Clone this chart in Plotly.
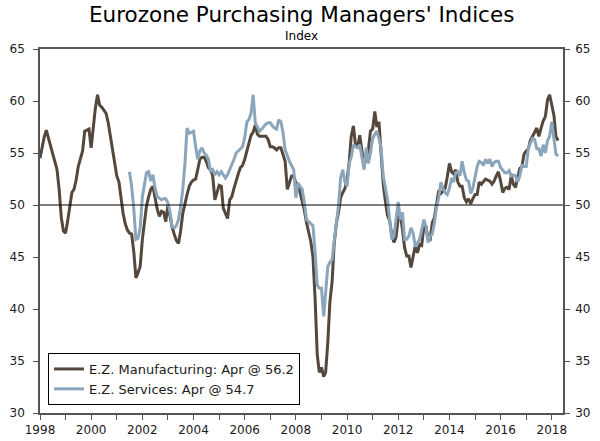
"""Eurozone PMI : manufacturier vs services, 1998-2018."""

import pandas as pd
import plotly.graph_objects as go

# === Données (indices mensuels) ===
mfg_start = "1998-01-01"
mfg_values = [
    54.5, 55.6, 56.5, 57.2, 56.5, 55.8, 55.0, 54.2, 53.4, 51.5, 48.8, 47.5,  # 1998
    47.3, 48.5, 49.9, 51.2, 51.5, 52.4, 53.7, 54.4, 55.2, 57.1, 57.2, 57.3,  # 1999
    55.5, 57.5, 59.3, 60.6, 59.6, 59.4, 59.1, 58.8, 57.9, 56.6, 55.0, 54.0,  # 2000
    52.8, 52.2, 50.5, 49.2, 48.2, 47.6, 47.3, 47.2, 45.5, 43.0, 43.5, 44.1,  # 2001
    46.7, 48.3, 49.9, 50.8, 51.5, 51.8, 50.5, 49.6, 48.9, 49.4, 49.3, 48.4,  # 2002
    50.0, 48.8, 47.9, 47.2, 46.6, 46.3, 47.5, 49.2, 50.2, 51.0, 51.8, 52.2,  # 2003
    52.4, 52.5, 53.4, 54.4, 54.6, 54.6, 54.2, 53.6, 53.4, 52.8, 50.5, 51.2,  # 2004
    51.9, 51.8, 49.7, 49.2, 48.7, 50.5, 50.8, 51.6, 52.4, 53.0, 53.6, 53.8,  # 2005
    54.4, 55.2, 55.8, 56.7, 57.0, 57.7, 56.8, 56.6, 56.6, 56.6, 56.6, 56.3,  # 2006
    55.6, 55.6, 55.5, 55.3, 55.5, 55.5, 54.8, 54.2, 51.5, 52.2, 52.8, 52.8,  # 2007
    52.1, 52.0, 51.2, 50.5, 49.5, 48.3, 47.3, 46.5, 45.0, 41.1, 35.6, 33.9,  # 2008
    34.4, 33.5, 33.9, 36.8, 40.7, 42.6, 46.3, 48.2, 49.3, 50.7, 51.2, 51.6,  # 2009
    52.4, 54.2, 56.6, 57.6, 55.8, 55.6, 56.7, 55.1, 53.7, 54.6, 55.3, 57.1,  # 2010
    57.3, 59.0, 57.5, 58.0, 54.6, 52.0, 50.4, 49.0, 48.5, 47.1, 46.4, 46.9,  # 2011
    48.8, 49.0, 47.7, 45.9, 45.1, 45.1, 44.0, 45.1, 46.1, 45.4, 46.2, 46.1,  # 2012
    47.9, 47.9, 46.8, 46.7, 48.3, 48.8, 50.3, 51.4, 51.1, 51.3, 51.6, 52.7,  # 2013
    54.0, 53.2, 53.0, 53.4, 52.2, 51.8, 51.8, 50.7, 50.3, 50.6, 50.1, 50.6,  # 2014
    51.0, 51.0, 52.2, 52.0, 52.2, 52.5, 52.4, 52.3, 52.0, 52.3, 52.8, 53.2,  # 2015
    52.3, 51.2, 51.6, 51.7, 51.5, 52.8, 52.0, 51.7, 52.6, 53.5, 53.7, 54.9,  # 2016
    55.2, 55.4, 56.2, 56.7, 57.0, 57.4, 56.6, 57.4, 58.1, 58.5, 60.1, 60.6,  # 2017
    59.6, 58.6, 56.6, 56.2,                                                  # 2018
]

svc_start = "2001-07-01"
svc_values = [
    53.2, 51.8, 49.6, 46.7, 46.8, 47.8,                                      # 2001 (jul-dec)
    50.8, 52.0, 53.1, 53.2, 52.3, 52.9, 51.6, 50.8, 50.6, 50.5, 50.6, 50.6,  # 2002
    50.2, 49.3, 47.9, 47.8, 48.0, 48.6, 49.8, 51.5, 54.0, 57.4, 56.9, 57.0,  # 2003
    57.1, 55.6, 54.4, 55.2, 55.5, 55.0, 54.8, 54.4, 53.2, 53.4, 52.9, 53.2,  # 2004
    52.9, 53.2, 52.9, 52.6, 52.9, 53.4, 53.8, 54.4, 55.0, 55.2, 55.4, 55.6,  # 2005
    56.5, 58.0, 58.2, 58.8, 60.6, 57.9, 57.5, 57.1, 57.3, 57.6, 57.8, 57.9,  # 2006
    57.9, 57.6, 57.4, 57.3, 58.2, 58.0, 57.0, 55.3, 54.7, 54.2, 53.8, 53.4,  # 2007
    50.7, 52.1, 51.8, 51.5, 50.2, 48.6, 48.4, 48.2, 48.0, 45.5, 42.3, 42.0,  # 2008
    42.0, 39.3, 41.9, 44.1, 44.5, 44.7, 46.5, 48.3, 50.0, 52.6, 53.4, 52.2,  # 2009
    51.8, 54.0, 54.6, 55.8, 55.6, 55.5, 55.8, 54.6, 53.4, 55.5, 54.0, 55.0,  # 2010
    56.4, 56.8, 57.1, 56.4, 55.5, 52.8, 51.5, 50.5, 48.6, 46.7, 47.0, 48.8,  # 2011
    50.3, 48.6, 49.3, 46.7, 46.7, 47.0, 47.8, 47.3, 46.0, 46.3, 46.7, 47.6,  # 2012
    48.6, 47.9, 46.4, 47.0, 47.2, 48.3, 49.8, 50.7, 52.2, 51.6, 51.2, 51.0,  # 2013
    51.6, 52.6, 52.2, 53.1, 53.2, 52.8, 54.2, 53.1, 52.4, 52.3, 51.1, 51.6,  # 2014
    52.7, 53.7, 54.2, 54.1, 53.8, 54.4, 54.0, 54.4, 53.7, 54.1, 54.2, 54.2,  # 2015
    53.6, 53.3, 53.1, 53.1, 53.3, 52.8, 52.9, 52.8, 52.2, 52.8, 53.8, 53.7,  # 2016
    53.7, 55.5, 56.0, 56.4, 56.3, 55.4, 55.4, 54.7, 55.8, 55.0, 56.2, 56.6,  # 2017
    58.0, 56.2, 54.9, 54.7,                                                  # 2018
]

mfg_name = "E.Z. Manufacturing: Apr @ 56.2"
svc_name = "E.Z. Services: Apr @ 54.7"
years = list(range(1998, 2019))
year_labels = [str(y) if y % 2 == 0 else "" for y in years]
y_ticks = [30, 35, 40, 45, 50, 55, 60, 65]

mfg_dates = pd.date_range(mfg_start, periods=len(mfg_values), freq="MS")
svc_dates = pd.date_range(svc_start, periods=len(svc_values), freq="MS")

FONT = "DejaVu Sans"
AXIS_COL = "#555555"
TXT_COL = "#1a1a1a"
PLOT_H = 364  # hauteur de la zone de tracé en px (441 - 49 - 28)

fig = go.Figure()
fig.add_trace(go.Scatter(x=mfg_dates, y=mfg_values, mode="lines", name=mfg_name,
                         line=dict(color="#54473b", width=3)))
fig.add_trace(go.Scatter(x=svc_dates, y=svc_values, mode="lines", name=svc_name,
                         line=dict(color="#8ba5bb", width=3), yaxis="y2"))

fig.add_hline(y=50, line=dict(color="black", width=1))

axis_common = dict(range=[30, 65], tickvals=y_ticks, ticks="outside", ticklen=5,
                   tickcolor=AXIS_COL, showline=True, linecolor=AXIS_COL,
                   linewidth=1.5, showgrid=False, zeroline=False,
                   tickfont=dict(size=12, color=TXT_COL))

fig.update_layout(
    width=600, height=441,
    margin=dict(l=40, r=37, t=49, b=28, autoexpand=False),
    paper_bgcolor="white", plot_bgcolor="white",
    font=dict(family=FONT, color=TXT_COL),
    xaxis=dict(type="date", range=["1998-01-01", "2018-06-10"],
               tickvals=[f"{y}-01-01" for y in years], ticktext=year_labels,
               ticks="outside", ticklen=5, tickcolor=AXIS_COL,
               showline=True, linecolor=AXIS_COL, linewidth=1.5, mirror=True,
               showgrid=False, zeroline=False, tickfont=dict(size=12, color=TXT_COL)),
    yaxis=dict(side="left", ticklabelstandoff=6, **axis_common),
    yaxis2=dict(side="right", overlaying="y", ticklabelstandoff=3, **axis_common),
    showlegend=True,
    legend=dict(x=0.0153, y=0.022, xanchor="left", yanchor="bottom",
                bgcolor="white", bordercolor="black", borderwidth=1,
                font=dict(size=13, family=FONT, color=TXT_COL), itemwidth=30,
                tracegroupgap=0),
    annotations=[
        dict(text="Eurozone Purchasing Managers' Indices", xref="paper", yref="paper",
             x=0.5, y=1 + (49 - 15) / PLOT_H, xanchor="center", yanchor="middle",
             showarrow=False, font=dict(size=21.5, family=FONT, color="black")),
        dict(text="Index", xref="paper", yref="paper",
             x=0.5, y=1 + (49 - 36) / PLOT_H, xanchor="center", yanchor="middle",
             showarrow=False, font=dict(size=12, family=FONT, color="black")),
    ],
)

# la page met une marge de 8 px autour du graphique : on l'enlève
fig.write_html("out.html", config={"displayModeBar": False},
               post_script="document.body.style.margin = '0px';")
